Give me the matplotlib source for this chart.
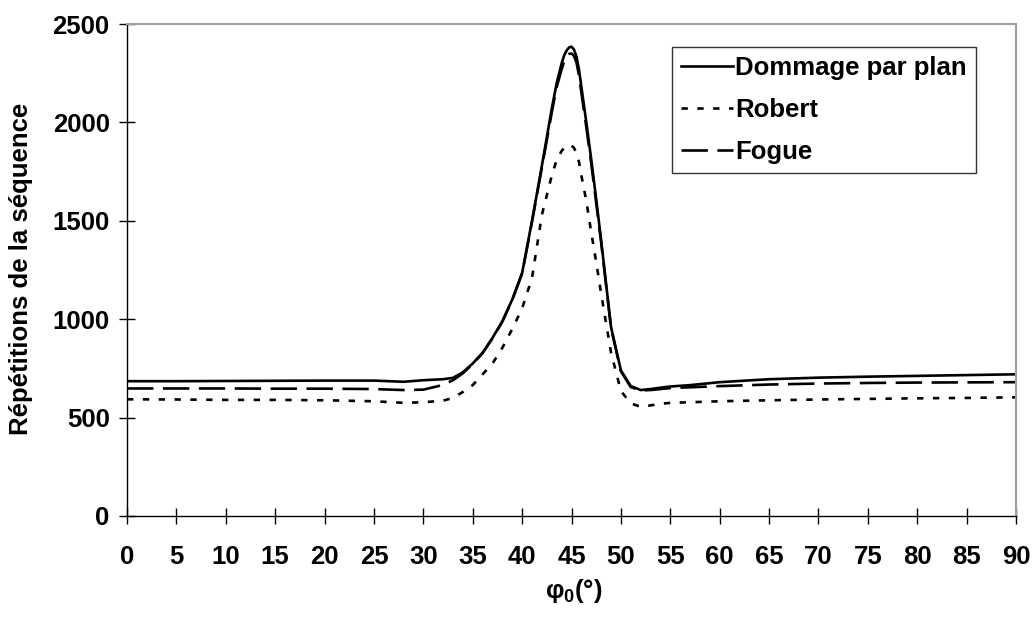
import matplotlib
matplotlib.use("Agg")
import matplotlib.pyplot as plt

plt.rcParams['font.family'] = ['Liberation Sans', 'DejaVu Sans']
plt.rcParams['font.weight'] = 'bold'
plt.rcParams['mathtext.fontset'] = 'custom'
plt.rcParams['mathtext.rm'] = 'Liberation Sans:bold'
plt.rcParams['mathtext.it'] = 'Liberation Sans:bold'
plt.rcParams['mathtext.bf'] = 'Liberation Sans:bold'

# Angle phi_0 (degrees)
phi = [0, 5, 10, 15, 20, 25, 28, 30, 32, 33, 34, 35, 36, 37, 38, 39, 40, 41,
       42, 43, 43.5, 44, 44.25, 44.5, 44.75, 45, 45.25, 45.5, 45.75, 46, 46.5,
       47, 47.5, 48, 49, 50, 51, 52, 53, 54, 55, 57, 60, 65, 70, 75, 80, 85, 90]

dommage = [685, 685, 686, 687, 688, 688, 682, 690, 695, 702, 730, 775, 830, 905,
           990, 1100, 1235, 1500, 1780, 2070, 2200, 2300, 2340, 2365, 2381, 2385,
           2370, 2335, 2270, 2180, 2000, 1810, 1610, 1400, 960, 740, 660, 640,
           645, 652, 658, 665, 680, 695, 703, 708, 712, 716, 720]

robert = [593, 592, 590, 590, 588, 583, 575, 578, 586, 600, 630, 665, 720, 775,
          855, 950, 1055, 1210, 1530, 1730, 1810, 1855, 1870, 1880, 1885, 1883,
          1870, 1845, 1800, 1730, 1600, 1440, 1290, 1130, 830, 635, 572, 555,
          562, 570, 575, 578, 583, 588, 592, 595, 598, 600, 603]

fogue = [648, 648, 648, 647, 647, 645, 640, 642, 666, 690, 725, 772, 828, 903,
         988, 1098, 1232, 1495, 1770, 2050, 2180, 2270, 2310, 2335, 2348, 2350,
         2338, 2305, 2240, 2150, 1975, 1790, 1590, 1390, 955, 735, 655, 638,
         640, 645, 650, 654, 660, 668, 673, 676, 678, 679, 680]

series_labels = ['Dommage par plan', 'Robert', 'Fogue']
x_ticks = list(range(0, 91, 5))
y_ticks = [0, 500, 1000, 1500, 2000, 2500]

FS = 18.5

fig = plt.figure(figsize=(10.32, 6.17), dpi=100)
ax = fig.add_axes([0.1231, 0.1637, 0.8614, 0.7974])

ax.plot(phi, dommage, color='black', lw=1.9, label=series_labels[0],
        solid_joinstyle='round')
ax.plot(phi, robert, color='black', lw=1.9, dashes=(2.4, 3.6), label=series_labels[1])
ax.plot(phi, fogue, color='black', lw=1.9, dashes=(10, 3.6), label=series_labels[2])

ax.set_xlim(0, 90)
ax.set_ylim(0, 2500)
ax.set_xticks(x_ticks)
ax.set_yticks(y_ticks)

for side in ('left', 'bottom'):
    ax.spines[side].set_color('black')
    ax.spines[side].set_linewidth(1.0)
for side in ('top', 'right'):
    ax.spines[side].set_color('#a0a0a0')
    ax.spines[side].set_linewidth(1.5)

ax.tick_params(axis='x', direction='inout', length=12, width=1, pad=15,
               labelsize=FS)
ax.tick_params(axis='y', direction='inout', length=11, width=1, pad=7,
               labelsize=FS)
for lab in ax.get_xticklabels() + ax.get_yticklabels():
    lab.set_fontweight('bold')

ax.set_xlabel('φ$_0$(°)', fontsize=FS, fontweight='bold')
ax.set_ylabel('Répétitions de la séquence', fontsize=FS, fontweight='bold')
ax.xaxis.set_label_coords(0.503, -0.125)
ax.yaxis.set_label_coords(-0.106, 0.503)

leg = ax.legend(loc='upper left', bbox_to_anchor=(0.613, 0.953),
                fontsize=FS, frameon=True, fancybox=False, shadow=False,
                handlelength=2.0, handletextpad=0.1, labelspacing=0.69,
                borderpad=0.36, borderaxespad=0.0)
leg.get_frame().set_edgecolor('black')
leg.get_frame().set_linewidth(1.0)
for t in leg.get_texts():
    t.set_fontweight('bold')

fig.savefig('out.png', dpi=100)
